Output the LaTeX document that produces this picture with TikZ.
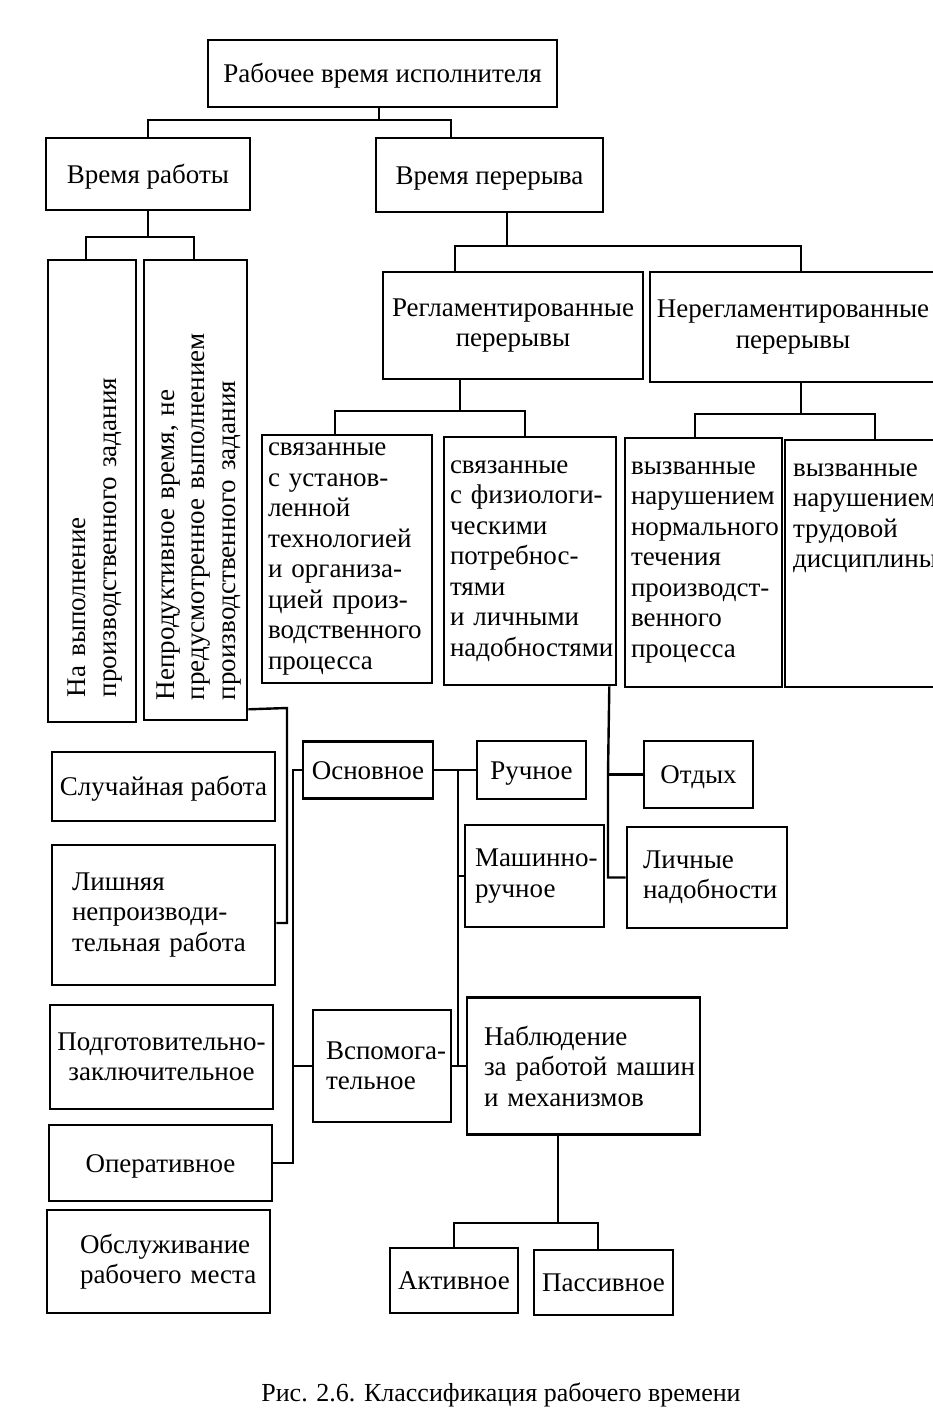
\documentclass[tikz,border=0pt]{standalone}
\usepackage{fontspec}
\setmainfont{Liberation Serif}
\hyphenpenalty=10000 \exhyphenpenalty=10000
\begin{document}
\begin{tikzpicture}[x=1pt,y=-1pt,
  box/.style={draw, line width=2.6pt, inner sep=0pt, font=\fontsize{27}{30.5}\selectfont},
  one/.style={text height=18pt, text depth=0pt},
  sz/.style n args={2}{minimum width=#1pt, minimum height=#2pt},
  lt/.style={align=left, text width=#1pt},
  ln/.style={line width=2.4pt}]
\path[fill=white] (0,0) rectangle (933,1419);
\useasboundingbox (0,0) rectangle (933,1419);

% nodes
\node[box, one, sz={349}{67}] (root) at (382.5,73.5) {Рабочее время исполнителя};
\node[box, one, sz={204}{72}] (vr) at (148,174) {Время работы};
\node[box, one, sz={227}{74}] (vp) at (489.5,175) {Время перерыва};
\node[box, rotate=90, sz={462}{88}, lt=412, text height=24pt] (v1) at (92,491) {На~выполнение\\производственного~задания};
\node[box, rotate=90, sz={460}{103}, lt=420, text height=24pt] (v2) at (195.5,490) {Непродуктивное~время,~не\\предусмотренное~выполнением\\производственного~задания};
\node[box, sz={260}{107}, align=center] (regl) at (513,325.5) {Регламентированные\\перерывы};
\node[box, sz={286}{110}, align=center] (nereg) at (793,327) {Нерегламентированные\\перерывы};
\node[box, sz={170}{248}, lt=158] (s1) at (347,559) {связанные\\с~установ-\\ленной\\технологией\\и~организа-\\цией~произ-\\водственного\\процесса};
\node[box, sz={172}{248}, lt=160] (s2) at (530,561) {связанные\\с~физиологи-\\ческими\\потребнос-\\тями\\и~личными\\надобностями};
\node[box, sz={157}{249}, lt=145] (s3) at (703.5,562.5) {вызванные\\нарушением\\нормального\\течения\\производст-\\венного\\процесса};
\node[box, sz={180}{247}, lt=164, text height=36pt, text depth=211pt] (s4) at (875,563.5) {вызванные\\нарушением\\трудовой\\дисциплины};

\node[box, one, sz={223}{69}] (sluch) at (163.5,786.5) {Случайная работа};
\node[box, sz={223}{140}, lt=183] (lishn) at (163.5,915) {Лишняя\\непроизводи-\\тельная~работа};
\node[box, sz={223}{104}, align=center] (podg) at (161.5,1057) {Подготовительно-\\заключительное};
\node[box, one, sz={223}{76}] (oper) at (160.5,1163) {Оперативное};
\node[box, sz={223}{103}, lt=157] (obsl) at (158.5,1261.5) {Обслуживание\\рабочего~места};

\node[box, one, sz={130}{57}] (osn) at (368,770) {Основное};
\node[box, sz={138}{112}, lt=112] (vspom) at (382,1066) {Вспомога-\\тельное};
\node[box, one, sz={109}{58}] (ruch) at (531.5,770) {Ручное};
\node[box, sz={139}{102}, lt=119] (mash) at (534.5,876) {Машинно-\\ручное};
\node[box, sz={233}{137}, lt=199] (nabl) at (583.5,1066) {Наблюдение\\за~работой~машин\\и~механизмов};
\node[box, one, sz={109}{67}] (otd) at (698.5,774.5) {Отдых};
\node[box, sz={160}{101}, lt=128] (lich) at (707,877.5) {Личные\\надобности};
\node[box, one, sz={128}{65}] (akt) at (454,1280.5) {Активное};
\node[box, one, sz={139}{65}] (pass) at (603.5,1282.5) {Пассивное};

\node[font=\fontsize{26}{30}\selectfont] (cap) at (501,1395) {Рис. 2.6. Классификация рабочего времени};

% connectors
\coordinate (j1) at (379,120);
\draw[ln] ([xshift=-3.5pt]root.south) -- (j1);
\draw[ln] (vr.north) |- (j1) -| ([xshift=-38.5pt]vp.north);

\coordinate (j2) at (148,237);
\draw[ln] (vr.south) -- (j2);
\draw[ln] ([xshift=-6pt]v1.east) |- (j2) -| ([xshift=-1.5pt]v2.east);

\coordinate (j3) at (507,246);
\draw[ln] ([xshift=17.5pt]vp.south) -- (j3);
\draw[ln] ([xshift=-58pt]regl.north) |- (j3) -| ([xshift=8pt]nereg.north);

\coordinate (j4) at (460,411);
\draw[ln] ([xshift=-53pt]regl.south) -- (j4);
\draw[ln] ([xshift=-12pt]s1.north) |- (j4) -| ([xshift=-5pt]s2.north);

\coordinate (j5) at (801,414);
\draw[ln] ([xshift=8pt]nereg.south) -- (j5);
\draw[ln] ([xshift=-8.5pt]s3.north) |- (j5) -| (s4.north);

\coordinate (jF) at (287,708);
\draw[ln] ([yshift=12pt]v2.south west) -- (jF) |- ([yshift=-8pt]lishn.east);

\coordinate (jG) at (293,1066);
\draw[ln] (osn.west) -| (jG) |- (oper.east);
\draw[ln] (jG) -- (vspom.west);

\coordinate (jH1) at (458,770);
\coordinate (jH2) at (458,1066);
\draw[ln] (osn.east) -- (ruch.west);
\draw[ln] (jH1) -- (jH2);
\draw[ln] (jH1 |- mash.west) -- (mash.west);
\draw[ln] (vspom.east) -- (nabl.west);

\coordinate (jI) at (608,774.5);
\draw[ln] ([xshift=-8pt]s2.south east) -- (jI) |- (lich.west);
\draw[ln] (jI) -- (otd.west);

\coordinate (jJ) at (558,1223);
\draw[ln] ([xshift=-25.5pt]nabl.south) -- (jJ);
\draw[ln] (akt.north) |- (jJ) -| ([xshift=-5.5pt]pass.north);
\end{tikzpicture}
\end{document}
